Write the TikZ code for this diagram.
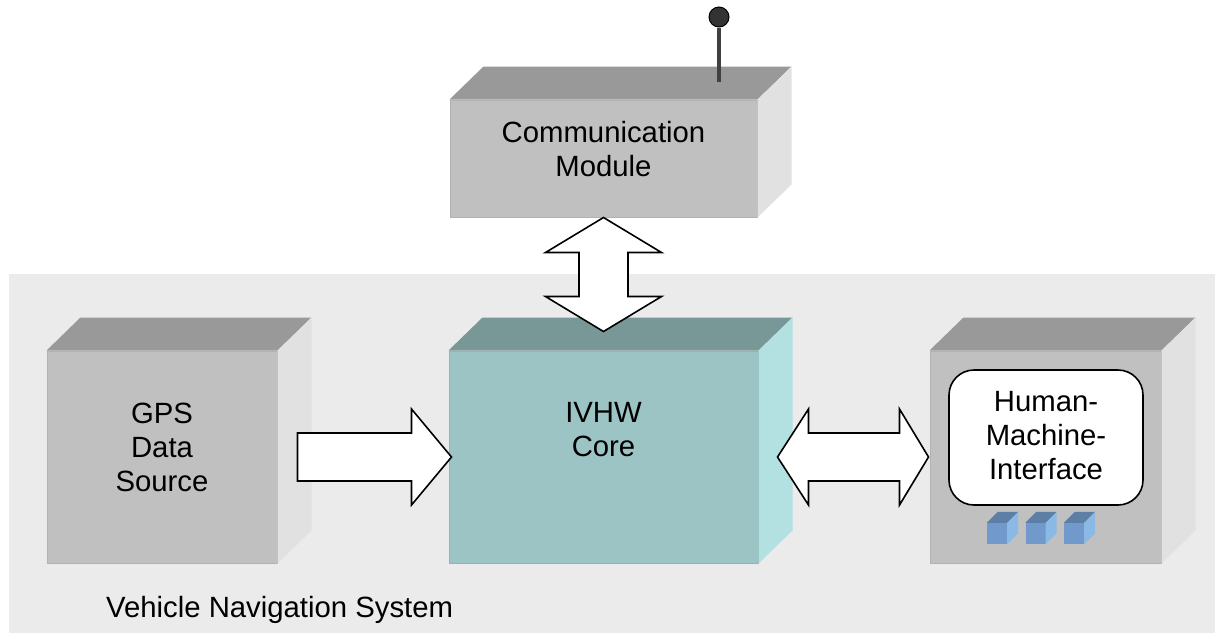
\documentclass[tikz,border=0pt]{standalone}
\usepackage{fontspec}
\setmainfont{Liberation Sans}
\usepackage{tikz}
\usetikzlibrary{positioning, calc}

\definecolor{panel}{HTML}{EBEBEB}
\definecolor{boxfront}{HTML}{C0C0C0}
\definecolor{boxtop}{HTML}{999999}
\definecolor{boxside}{HTML}{E1E1E1}
\definecolor{boxedge}{HTML}{B2B2B2}
\definecolor{corefront}{HTML}{9CC4C4}
\definecolor{coretop}{HTML}{789898}
\definecolor{coreside}{HTML}{B3E0E0}
\definecolor{coreedge}{HTML}{8FB6B6}
\definecolor{keyfront}{HTML}{7199CC}
\definecolor{keytop}{HTML}{5D7FA6}
\definecolor{keyside}{HTML}{8AB9E6}

\tikzset{
	block/.style={draw=boxedge, fill=boxfront, line width=1pt, inner sep=0pt},
	corebox/.style={block, draw=coreedge, fill=corefront},
	lbl/.style={align=center, inner sep=0pt, anchor=north},
	fatarrow/.style={draw=black, fill=white, line width=1.6pt, line join=miter},
	keycap/.style={fill=keyfront, inner sep=0pt, minimum width=20pt, minimum height=21pt}
}

\begin{document}
\begin{tikzpicture}[x=1pt, y=-1pt, every node/.style={font=\fontsize{29.3pt}{34pt}\selectfont}]
	
	\useasboundingbox (0,0) rectangle (1215,633);
	
	%// the grey panel of the system
	\fill[panel] (9,274) rectangle (1215,633);
	\node [anchor=base west, inner sep=0pt] (system) at (106,617) {Vehicle Navigation System};
	
	%// front faces
	\node [block, minimum width=307pt, minimum height=117pt] (comm) at (603.5,158.5) {};
	\node [block, minimum width=230pt, minimum height=212pt] (gps) at (162,457) {};
	\node [corebox, minimum width=309pt, minimum height=212pt] (core) at (603.5,457) {};
	\node [block, minimum width=231pt, minimum height=212pt] (hmi) at (1045.5,457) {};
	
	%// top and side faces
	\foreach \n/\t/\s in {comm/boxtop/boxside, gps/boxtop/boxside, core/coretop/coreside, hmi/boxtop/boxside}
	{
		\fill[\t] (\n.north west) -- ++(34,-33) -- ($(\n.north east)+(34,-33)$) -- (\n.north east) -- cycle;
		\fill[\s] (\n.north east) -- ++(34,-33) -- ($(\n.south east)+(34,-33)$) -- (\n.south east) -- cycle;
	}
	
	%// antenna
	\coordinate (mastfoot) at (719,82);
	\node [circle, draw=black, fill=black!80, inner sep=0pt, minimum size=20pt, line width=1pt] (ball) at (719,17) {};
	\draw [line width=4pt, black!75] (mastfoot) -- (ball.south);
	
	%// texts
	\node [lbl, below=22pt of comm.north] (commtext) {Communication\\Module};
	\node [lbl, below=52pt of gps.north] (gpstext) {GPS\\Data\\Source};
	\node [lbl, below=52pt of core.north] (coretext) {IVHW\\Core};
	
	%// screen and keys of the interface
	\node [draw=black, fill=white, line width=1.6pt, rounded corners=25pt, minimum width=194pt, minimum height=135pt] (screen) at (1046,437.5) {};
	\node [lbl, below=22pt of screen.north] (hmitext) {Human-\\Machine-\\Interface};
	\foreach \k in {0,1,2}
	{
		\node [keycap] (key\k) at (997+38.5*\k, 533.5) {};
		\fill[keytop] (key\k.north west) -- ++(11,-11) -- ($(key\k.north east)+(11,-11)$) -- (key\k.north east) -- cycle;
		\fill[keyside] (key\k.north east) -- ++(11,-11) -- ($(key\k.south east)+(11,-11)$) -- (key\k.south east) -- cycle;
	}
	
	%// block arrows
	\draw [fatarrow] ($(gps.east)+(20,-24)$) -- ($(core.west)+(-37,-24)$) -- ++(0,-24) -- ($(core.west)+(3,0)$)
		-- ++(-40,48) -- ++(0,-24) -- ($(gps.east)+(20,24)$) -- cycle;
	\draw [fatarrow] ($(core.east)+(19,0)$) -- ++(31,-48) -- ++(0,24) -- ($(hmi.west)+(-30,-24)$) -- ++(0,-24)
		-- ($(hmi.west)+(-1,0)$) -- ++(-29,48) -- ++(0,-24) -- ($(core.east)+(50,24)$) -- ++(0,24) -- cycle;
	\draw [fatarrow] (comm.south) -- ++(58,35) -- ++(-33.5,0) -- ($(core.north)+(24.5,-54)$) -- ++(33.5,0)
		-- ($(core.north)+(0,-19)$) -- ++(-58,-35) -- ++(33.5,0) -- ($(comm.south)+(-24.5,35)$) -- ++(-33.5,0) -- cycle;
	
\end{tikzpicture}
\end{document}
